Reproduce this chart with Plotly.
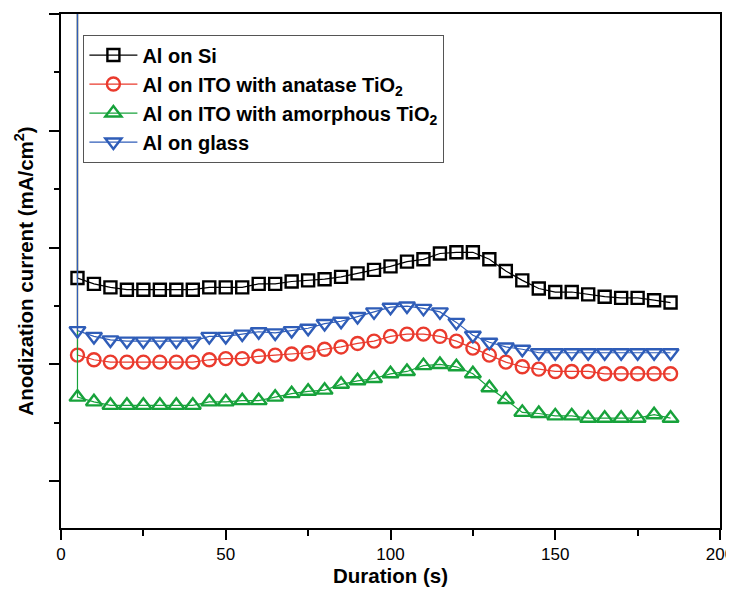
import plotly.graph_objects as go

# Time (s); the first entry is the initial current spike at t = 5 s
time_s = [5, 5, 10, 15, 20, 25, 30, 35, 40, 45, 50, 55, 60, 65, 70, 75, 80, 85, 90, 95,
          100, 105, 110, 115, 120, 125, 130, 135, 140, 145, 150, 155, 160, 165, 170,
          175, 180, 185]

al_on_si = [6.0, 1.74, 1.69, 1.66, 1.64, 1.64, 1.64, 1.64, 1.64, 1.66, 1.66, 1.66, 1.69,
            1.69, 1.71, 1.72, 1.73, 1.75, 1.78, 1.81, 1.84, 1.88, 1.90, 1.95, 1.96, 1.96,
            1.90, 1.80, 1.72, 1.65, 1.62, 1.62, 1.60, 1.58, 1.57, 1.57, 1.55, 1.53]

al_ito_anatase = [6.0, 1.08, 1.04, 1.02, 1.02, 1.02, 1.02, 1.02, 1.02, 1.04, 1.05, 1.05,
                  1.07, 1.08, 1.09, 1.10, 1.13, 1.15, 1.18, 1.20, 1.24, 1.26, 1.26, 1.24,
                  1.20, 1.14, 1.08, 1.02, 0.98, 0.96, 0.94, 0.94, 0.94, 0.92, 0.92, 0.92,
                  0.92, 0.92]

al_ito_amorphous = [6.0, 0.72, 0.68, 0.65, 0.65, 0.65, 0.65, 0.65, 0.65, 0.68, 0.68, 0.69,
                    0.69, 0.72, 0.75, 0.77, 0.78, 0.83, 0.86, 0.88, 0.92, 0.94, 0.99, 1.00,
                    0.98, 0.92, 0.80, 0.70, 0.59, 0.58, 0.56, 0.56, 0.54, 0.54, 0.54, 0.54,
                    0.57, 0.54]

al_on_glass = [6.0, 1.29, 1.24, 1.21, 1.20, 1.20, 1.20, 1.20, 1.20, 1.24, 1.24, 1.26,
               1.28, 1.27, 1.29, 1.31, 1.35, 1.37, 1.41, 1.45, 1.49, 1.50, 1.48, 1.45,
               1.36, 1.25, 1.19, 1.15, 1.13, 1.10, 1.10, 1.10, 1.10, 1.10, 1.10, 1.10,
               1.10, 1.10]

series_names = ["Al on Si", "Al on ITO with anatase TiO<sub>2</sub>",
                "Al on ITO with amorphous TiO<sub>2</sub>", "Al on glass"]
series_values = [al_on_si, al_ito_anatase, al_ito_amorphous, al_on_glass]
colors = ["#000000", "#EA3A2D", "#17A23B", "#2F5DB8"]
symbols = ["square-open", "circle-open", "triangle-up-open", "triangle-down-open"]
sizes = [12, 13, 14, 14]

fig = go.Figure()
for name, vals, c, s, sz in zip(series_names, series_values, colors, symbols, sizes):
    fig.add_trace(go.Scatter(
        x=time_s, y=vals, name=name, mode="lines+markers",
        line=dict(color=c, width=1.2),
        marker=dict(symbol=s, size=sz, color=c, line=dict(width=2.4, color=c)),
    ))

sans = "Liberation Sans, Arial, sans-serif"
axis_font = dict(family=sans, size=17, color="#000")
title_font = dict(family=sans, size=20.5, color="#000")

# The page body has an 8 px margin, so the figure is sized/offset to compensate
fig.update_layout(
    width=726, height=579,
    margin=dict(l=53, r=14, t=6, b=59),
    paper_bgcolor="white", plot_bgcolor="white",
    showlegend=True,
    legend=dict(
        x=0.034, y=0.96, xanchor="left", yanchor="top",
        bgcolor="white", bordercolor="#555", borderwidth=1,
        font=dict(family=sans, size=20, color="#000", weight="bold"),
        itemwidth=48, tracegroupgap=0,
    ),
    xaxis=dict(
        range=[0, 200], tick0=0, dtick=50,
        showline=True, linewidth=2, linecolor="#000", mirror=True,
        ticks="outside", ticklen=10, tickwidth=1.5, tickcolor="#000",
        minor=dict(dtick=25, ticks="outside", ticklen=6, tickwidth=1.5, tickcolor="#000"),
        showgrid=False, zeroline=False,
        tickfont=axis_font, ticklabeloverflow="allow",
        title=dict(text="<b>Duration (s)</b>", font=title_font, standoff=9),
        automargin=False,
    ),
    yaxis=dict(
        range=[-0.4, 4.0], tick0=0, dtick=1,
        showline=True, linewidth=2, linecolor="#000", mirror=True,
        ticks="outside", ticklen=10, tickwidth=1.5, tickcolor="#000",
        minor=dict(dtick=0.5, ticks="outside", ticklen=5, tickwidth=1.5, tickcolor="#000"),
        showgrid=False, zeroline=False, showticklabels=False,
        title=dict(text="<b>Anodization current (mA/cm<sup>2</sup>)</b>", font=title_font, standoff=10),
        automargin=False,
    ),
)

fig.write_html("out.html")
